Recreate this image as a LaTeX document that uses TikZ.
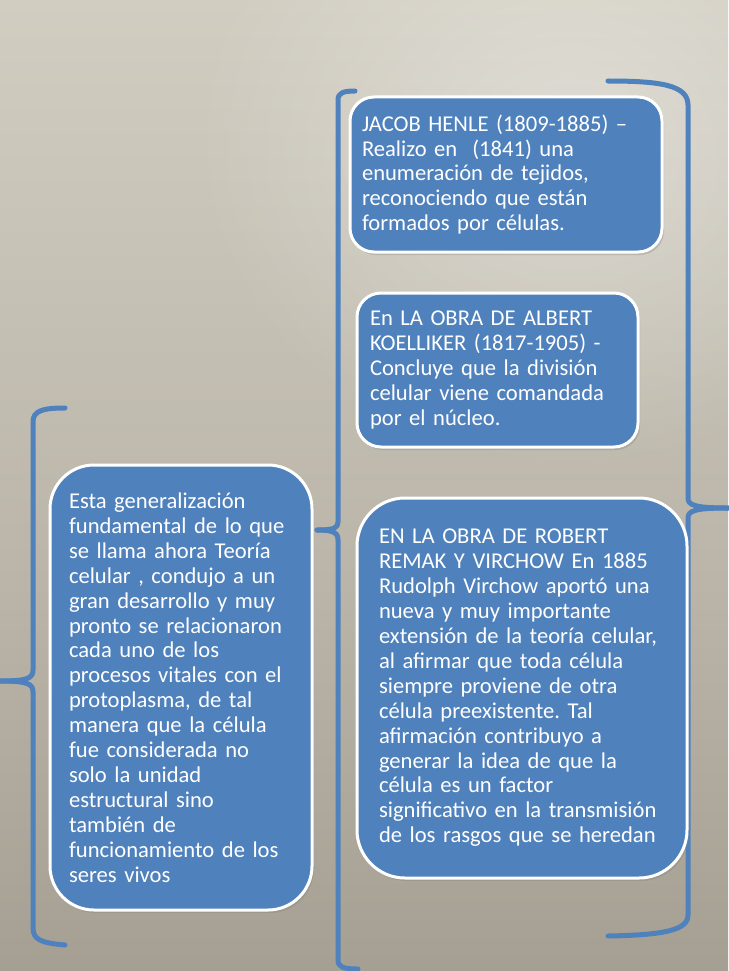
\documentclass[tikz,border=0pt]{standalone}
\usepackage{fontspec}
\setmainfont{Carlito}
\usetikzlibrary{shadows,fadings}
\definecolor{boxblue}{HTML}{4F81BD}
\definecolor{brk}{HTML}{4F81BD}
\definecolor{bgtop}{HTML}{C9C5B9}
\definecolor{bglight}{HTML}{D9D5CA}
\definecolor{bgmid}{HTML}{BAB5A8}
\definecolor{bgbot}{HTML}{8A8577}
\pgfdeclareverticalshading{bgshade}{100bp}{color(0bp)=(bgbot); color(45bp)=(bgmid); color(85bp)=(bglight); color(100bp)=(bgtop)}
\tikzfading[name=glow, inner color=transparent!0, outer color=transparent!100]
\frenchspacing
\begin{document}
\begin{tikzpicture}[x=1pt,y=-1pt,
  box/.style={draw=white, line width=3pt, fill=boxblue, text=white, anchor=north west,
    align=left, outer sep=0pt, inner ysep=0pt,
    font=\fontsize{22.6}{24.9}\selectfont\frenchspacing,
    drop shadow={shadow xshift=2pt, shadow yshift=-3pt, opacity=0.3}},
  brace/.style={draw=brk, line width=5pt, line cap=round, line join=round}]
\useasboundingbox (0,0) rectangle (728,971);
\shade[shading=bgshade] (0,0) rectangle (728,971);
\fill[white, opacity=0.35, path fading=glow] (570,140) ellipse (380 and 330);

% brackets
\draw[brace] (65,408) .. controls (42,408) and (33,411) .. (33,422) -- (33,670) .. controls (33,678) and (28,681) .. (0,681);
\draw[brace] (0,681) .. controls (28,681) and (33,684) .. (33,692) -- (33,928) .. controls (33,940) and (42,943) .. (65,945);

\draw[brace] (355,91) .. controls (343,91) and (338,93) .. (338,100) -- (338,522) .. controls (338,528) and (334,530) .. (317,530);
\draw[brace] (317,530) .. controls (334,530) and (338,533) .. (338,540) -- (338,960) .. controls (338,967) and (343,969) .. (358,969);

\draw[brace] (608,81) .. controls (660,81) and (688,85) .. (688,105) -- (688,498) .. controls (688,505) and (694,508) .. (728,508);
\draw[brace] (728,508) .. controls (694,508) and (688,511) .. (688,518) -- (688,915) .. controls (688,930) and (665,935) .. (608,936);

% boxes
\node[box, rounded corners=24pt, minimum width=312pt, minimum height=155pt, text width=288pt, inner xsep=12pt] (henle) at (350,97)
 {JACOB HENLE (1809-1885) –\\Realizo en\ \ (1841) una\\enumeración de tejidos,\\reconociendo que están\\formados por células.};

\node[box, rounded corners=24pt, minimum width=281pt, minimum height=154pt, text width=255pt, inner xsep=13pt] (koel) at (357,293)
 {En LA OBRA DE ALBERT\\KOELLIKER (1817-1905) -\\Concluye que la división\\celular viene comandada\\por el núcleo.};

\node[box, rounded corners=48pt, minimum width=330pt, minimum height=380pt, text width=286pt, inner xsep=22pt] (virchow) at (357,498)
 {EN LA OBRA DE ROBERT\\REMAK Y VIRCHOW En 1885\\Rudolph Virchow aportó una\\nueva y muy importante\\extensión de la teoría celular,\\al afirmar que toda célula\\siempre proviene de otra\\célula preexistente. Tal\\afirmación contribuyo a\\generar la idea de que la\\célula es un factor\\significativo en la transmisión\\de los rasgos que se heredan};

\node[box, rounded corners=44pt, minimum width=262pt, minimum height=445pt, text width=224pt, inner xsep=19pt] (gen) at (50,465)
 {Esta generalización\\fundamental de lo que\\se llama ahora Teoría\\celular , condujo a un\\gran desarrollo y muy\\pronto se relacionaron\\cada uno de los\\procesos vitales con el\\protoplasma, de tal\\manera que la célula\\fue considerada no\\solo la unidad\\estructural sino\\también de\\funcionamiento de los\\seres vivos};
\end{tikzpicture}
\end{document}
